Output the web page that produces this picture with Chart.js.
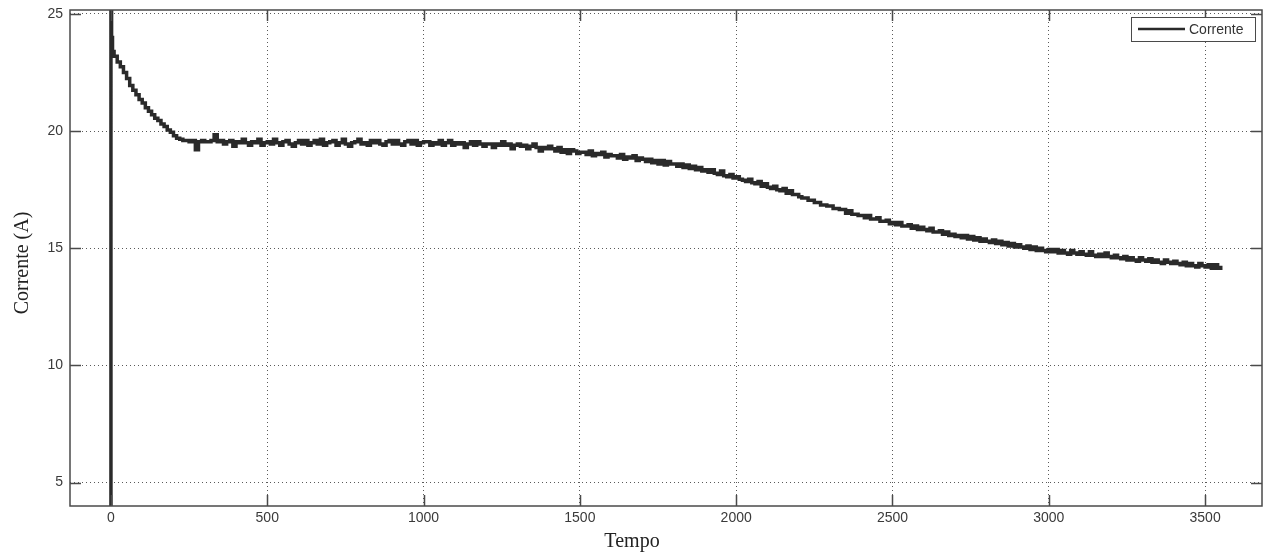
<!DOCTYPE html>
<html>
<head>
<meta charset="utf-8">
<script src="https://cdn.jsdelivr.net/npm/chart.js@4"></script>
<style>
  html, body { margin: 0; padding: 0; background: #fff; }
  #grafico { display: block; }
</style>
</head>
<body>
<canvas id="grafico" width="1270" height="555"></canvas>
<script>
// pontos do arranque (s, A)
const tempoInicio = [0, 0, 2, 5];
const correnteInicio = [3, 25.1, 24.0, 23.4];

// corrente lida a cada 10 s, a partir de 10 s
const passo = 10;
const correnteAmostras = [
  23.2, 22.95, 22.75, 22.5, 22.25, 21.95, 21.75, 21.55, 21.35, 21.2,
  21.0, 20.85, 20.7, 20.55, 20.45, 20.3, 20.2, 20.05, 19.95, 19.8,
  19.7, 19.65, 19.6, 19.6, 19.55, 19.6, 19.2, 19.55, 19.6, 19.55,
  19.55, 19.6, 19.85, 19.55, 19.6, 19.45, 19.55, 19.6, 19.35, 19.55,
  19.5, 19.65, 19.5, 19.4, 19.55, 19.5, 19.65, 19.4, 19.5, 19.55,
  19.45, 19.65, 19.5, 19.4, 19.55, 19.6, 19.45, 19.35, 19.5, 19.6,
  19.45, 19.6, 19.4, 19.5, 19.6, 19.45, 19.65, 19.4, 19.5, 19.55,
  19.6, 19.4, 19.5, 19.65, 19.45, 19.35, 19.5, 19.55, 19.65, 19.45,
  19.5, 19.4, 19.6, 19.5, 19.6, 19.45, 19.4, 19.55, 19.6, 19.45,
  19.6, 19.45, 19.4, 19.55, 19.6, 19.45, 19.6, 19.4, 19.5, 19.55,
  19.55, 19.4, 19.5, 19.45, 19.6, 19.4, 19.5, 19.6, 19.4, 19.5,
  19.45, 19.5, 19.3, 19.45, 19.55, 19.4, 19.55, 19.45, 19.35, 19.45,
  19.45, 19.3, 19.45, 19.4, 19.55, 19.4, 19.45, 19.25, 19.4, 19.45,
  19.35, 19.4, 19.25, 19.35, 19.45, 19.3, 19.15, 19.3, 19.25, 19.35,
  19.25, 19.15, 19.3, 19.1, 19.2, 19.05, 19.2, 19.15, 19.05, 19.1,
  19.1, 19.0, 19.15, 18.95, 19.05, 19.0, 19.1, 18.9, 19.0, 18.95,
  18.95, 18.85, 19.0, 18.8, 18.9, 18.85, 18.95, 18.75, 18.85, 18.8,
  18.7, 18.8, 18.65, 18.75, 18.6, 18.75, 18.55, 18.7, 18.6, 18.6,
  18.5, 18.6, 18.45, 18.55, 18.4, 18.5, 18.35, 18.45, 18.3, 18.35,
  18.25, 18.35, 18.2, 18.15, 18.3, 18.1, 18.05, 18.15, 18.0, 18.05,
  17.95, 17.9, 17.85, 17.95, 17.8, 17.75, 17.85, 17.65, 17.75, 17.6,
  17.55, 17.65, 17.5, 17.45, 17.55, 17.35, 17.45, 17.3, 17.3, 17.2,
  17.15, 17.15, 17.05, 17.05, 16.95, 16.95, 16.85, 16.85, 16.8, 16.8,
  16.7, 16.7, 16.65, 16.65, 16.5, 16.6, 16.45, 16.45, 16.4, 16.4,
  16.3, 16.4, 16.25, 16.25, 16.3, 16.15, 16.15, 16.2, 16.05, 16.1,
  16.0, 16.1, 15.95, 15.95, 16.0, 15.85, 15.95, 15.8, 15.9, 15.8,
  15.75, 15.85, 15.7, 15.7, 15.75, 15.6, 15.7, 15.55, 15.6, 15.5,
  15.55, 15.45, 15.55, 15.4, 15.5, 15.35, 15.45, 15.3, 15.4, 15.3,
  15.25, 15.35, 15.2, 15.3, 15.15, 15.25, 15.1, 15.2, 15.05, 15.15,
  15.05, 15.0, 15.1, 14.95, 15.05, 14.9, 15.0, 14.9, 14.85, 14.95,
  14.85, 14.95, 14.8, 14.9, 14.8, 14.75, 14.9, 14.8, 14.75, 14.85,
  14.75, 14.7, 14.85, 14.7, 14.65, 14.75, 14.65, 14.8, 14.65, 14.6,
  14.7, 14.6, 14.55, 14.65, 14.5, 14.6, 14.5, 14.45, 14.6, 14.5,
  14.45, 14.55, 14.4, 14.5, 14.4, 14.35, 14.5, 14.4, 14.35, 14.45,
  14.35, 14.3, 14.4, 14.25, 14.35, 14.25, 14.2, 14.35, 14.25, 14.2,
  14.3, 14.15, 14.3, 14.15, 14.25
];

const ticksTempo = [0, 500, 1000, 1500, 2000, 2500, 3000, 3500];
const ticksCorrente = [5, 10, 15, 20, 25];

const pontos = tempoInicio.map((t, i) => ({ x: t, y: correnteInicio[i] }))
  .concat(correnteAmostras.map((v, i) => ({ x: passo * (i + 1), y: v })));

const corEixo = '#4a4a4a';

// caixa, marcas para dentro, titulos e legenda ao estilo matlab
const estiloMatlab = {
  id: 'estiloMatlab',
  afterDatasetsDraw(chart) {
    const { ctx, chartArea: a, scales } = chart;
    const tam = 11;
    ctx.save();
    ctx.strokeStyle = corEixo;
    ctx.lineWidth = 1.5;
    ctx.strokeRect(a.left, a.top, a.right - a.left, a.bottom - a.top);

    ctx.beginPath();
    ticksTempo.forEach(v => {
      const px = Math.round(scales.x.getPixelForValue(v)) + 0.5;
      ctx.moveTo(px, a.bottom); ctx.lineTo(px, a.bottom - tam);
      ctx.moveTo(px, a.top); ctx.lineTo(px, a.top + tam);
    });
    ticksCorrente.forEach(v => {
      const py = Math.round(scales.y.getPixelForValue(v)) + 0.5;
      ctx.moveTo(a.left, py); ctx.lineTo(a.left + tam, py);
      ctx.moveTo(a.right, py); ctx.lineTo(a.right - tam, py);
    });
    ctx.stroke();

    // legenda
    const ds = chart.data.datasets[0];
    ctx.fillStyle = '#fff';
    ctx.fillRect(1131, 17, 125, 24);
    ctx.strokeStyle = corEixo;
    ctx.lineWidth = 1;
    ctx.strokeRect(1131.5, 17.5, 124, 24);
    ctx.strokeStyle = ds.borderColor;
    ctx.lineWidth = 2.5;
    ctx.beginPath();
    ctx.moveTo(1138, 29); ctx.lineTo(1185, 29);
    ctx.stroke();
    ctx.fillStyle = '#333';
    ctx.font = '14px "Liberation Sans", Arial, sans-serif';
    ctx.textAlign = 'left';
    ctx.textBaseline = 'middle';
    ctx.fillText(ds.label, 1189, 30);

    // titulos dos eixos
    ctx.fillStyle = '#222';
    ctx.font = '20px "Liberation Serif", "Times New Roman", serif';
    ctx.textAlign = 'center';
    ctx.textBaseline = 'alphabetic';
    ctx.fillText('Tempo', 632, 547);
    ctx.translate(23, 263);
    ctx.rotate(-Math.PI / 2);
    ctx.textBaseline = 'middle';
    ctx.fillText('Corrente (A)', 0, 0);
    ctx.restore();
  }
};

new Chart(document.getElementById('grafico'), {
  type: 'line',
  data: {
    datasets: [{
      label: 'Corrente',
      data: pontos,
      borderColor: '#2a2a2a',
      borderWidth: 3.5,
      stepped: true,
      pointRadius: 0,
      fill: false
    }]
  },
  options: {
    responsive: false,
    animation: false,
    devicePixelRatio: 1,
    layout: { padding: { top: 10, right: 8, left: 0, bottom: 0 } },
    plugins: {
      legend: { display: false },
      tooltip: { enabled: false }
    },
    scales: {
      x: {
        type: 'linear',
        min: -131,
        max: 3682,
        afterBuildTicks: s => { s.ticks = ticksTempo.map(v => ({ value: v })); },
        afterFit: s => { s.height = 49; s.paddingLeft = 0; s.paddingRight = 0; },
        grid: { color: '#5a5a5a', lineWidth: 1, drawTicks: false },
        border: { display: false, dash: [1, 3] },
        ticks: {
          color: '#3a3a3a',
          padding: 4,
          maxRotation: 0,
          callback: v => String(v),
          font: { family: '"Liberation Sans", Arial, sans-serif', size: 14 }
        }
      },
      y: {
        min: 4.0,
        max: 25.17,
        afterBuildTicks: s => { s.ticks = ticksCorrente.map(v => ({ value: v })); },
        afterFit: s => { s.width = 70; s.paddingTop = 0; s.paddingBottom = 0; },
        grid: { color: '#5a5a5a', lineWidth: 1, drawTicks: false },
        border: { display: false, dash: [1, 3] },
        ticks: {
          color: '#3a3a3a',
          padding: 7,
          callback: v => String(v),
          font: { family: '"Liberation Sans", Arial, sans-serif', size: 14 }
        }
      }
    }
  },
  plugins: [estiloMatlab]
});
</script>
</body>
</html>
